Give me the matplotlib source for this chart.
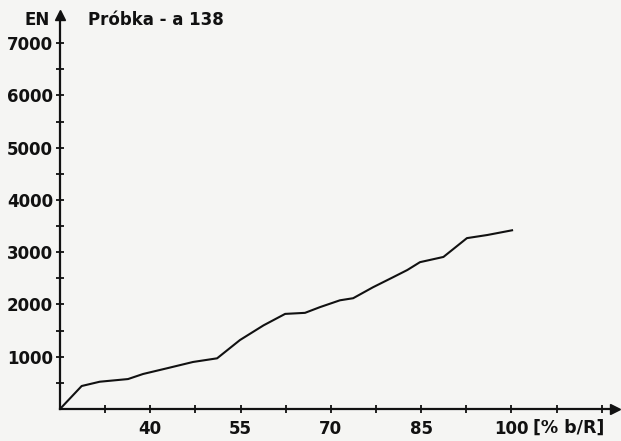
import numpy as np
import matplotlib.pyplot as plt

# values
pct_bR = [25.0, 28.6, 31.6, 36.3, 38.8, 42.8, 47.1, 51.1, 54.9, 58.8, 62.4,
          65.7, 68.2, 71.5, 73.7, 77.0, 80.3, 82.7, 84.8, 88.7, 92.6, 96.0, 100.1]
energy = [0, 440, 522, 573, 670, 780, 900, 970, 1320, 1600, 1820,
          1840, 1950, 2080, 2120, 2330, 2520, 2660, 2810, 2910, 3270, 3330, 3420]

x_major = [40, 55, 70, 85, 100]
x_ticks = [32.5, 40, 47.5, 55, 62.5, 70, 77.5, 85, 92.5, 100, 107.5, 115]
y_major = [1000, 2000, 3000, 4000, 5000, 6000, 7000]
y_minor = [500, 1500, 2500, 3500, 4500, 5500, 6500]

bg = '#f5f5f3'
ink = '#111111'
plt.rcParams['font.family'] = 'DejaVu Sans'

fig = plt.figure(figsize=(6.21, 4.41), dpi=100, facecolor=bg)
W, H = 621, 441
ax = fig.add_axes([60 / W, (H - 409) / H, (615 - 60) / W, (409 - 15) / H])
ax.set_facecolor(bg)

ax.plot(pct_bR, energy, color=ink, lw=1.5)

ax.set_xlim(25, 117.2)
ax.set_ylim(0, 7540)

for s in ['top', 'right']:
    ax.spines[s].set_visible(False)
for s in ['left', 'bottom']:
    ax.spines[s].set_linewidth(1.6)
    ax.spines[s].set_color(ink)

# arrow heads at the axis ends
ax.plot(1, 0, '>', color=ink, ms=7, transform=ax.transAxes, clip_on=False)
ax.plot(0, 1, '^', color=ink, ms=7, transform=ax.transAxes, clip_on=False)

ax.set_xticks(x_ticks)
ax.set_xticklabels([str(v).replace('.0', '') if v in x_major else '' for v in x_ticks])
ax.set_yticks(y_major)
ax.set_yticklabels([str(v) for v in y_major])
ax.set_yticks(y_minor, minor=True)
ax.tick_params(axis='both', which='both', direction='inout', length=6, width=1.3,
               color=ink, labelsize=12, labelcolor=ink, pad=2)
ax.tick_params(axis='x', pad=5)
for lbl in ax.get_xticklabels() + ax.get_yticklabels():
    lbl.set_fontweight('bold')

fig.text(533 / W, 1 - 433 / H, '[% b/R]', fontsize=12.5, fontweight='bold', color=ink)
fig.text(25 / W, 1 - 25 / H, 'EN', fontsize=12, fontweight='bold', color=ink)
fig.text(88 / W, 1 - 25 / H, 'Próbka - a 138', fontsize=12, fontweight='bold', color=ink)

fig.savefig('out.png', dpi=100, facecolor=bg)
